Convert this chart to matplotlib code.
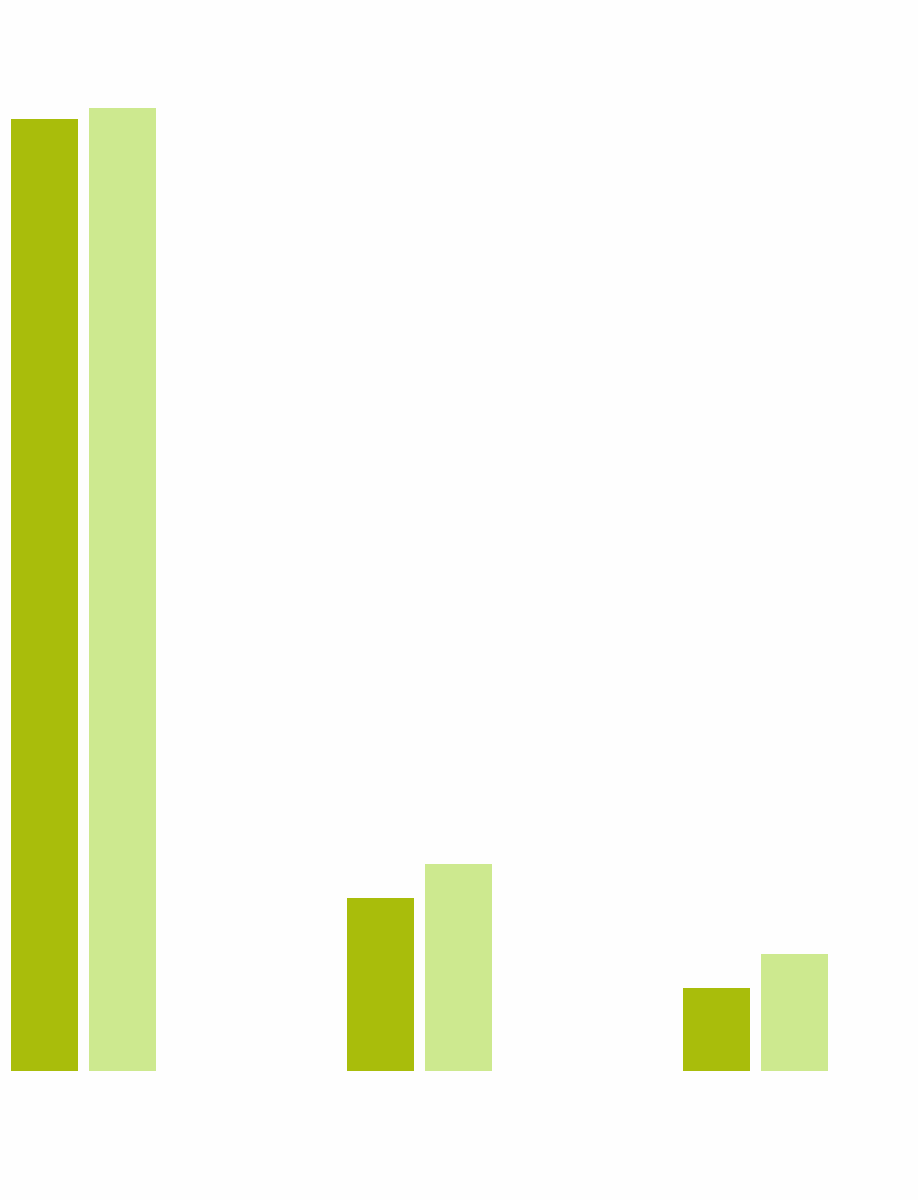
import numpy as np
import matplotlib
matplotlib.use("Agg")
import matplotlib.pyplot as plt

# values (relative units)
categories = ["A", "B", "C"]
series_1 = [95.2, 17.3, 8.3]
series_2 = [96.3, 20.7, 11.7]

dark_green = "#a9bd0b"
light_green = "#cde98f"


def main():
    fig = plt.figure(figsize=(9.18, 12), dpi=100, facecolor="#fefefe")
    ax = fig.add_axes([0, 129 / 1200, 1, 1071 / 1200])
    ax.set_facecolor("#fefefe")

    x = np.arange(len(categories))
    width = 67 / 336
    offset = 39 / 336
    ax.bar(x - offset, series_1, width, color=dark_green, linewidth=0)
    ax.bar(x + offset, series_2, width, color=light_green, linewidth=0)

    ax.set_xlim(-83.5 / 336, (918 - 83.5) / 336)
    ax.set_ylim(0, 107.1)
    ax.axis("off")

    fig.savefig("out.png", dpi=100, facecolor=fig.get_facecolor())


if __name__ == "__main__":
    main()
